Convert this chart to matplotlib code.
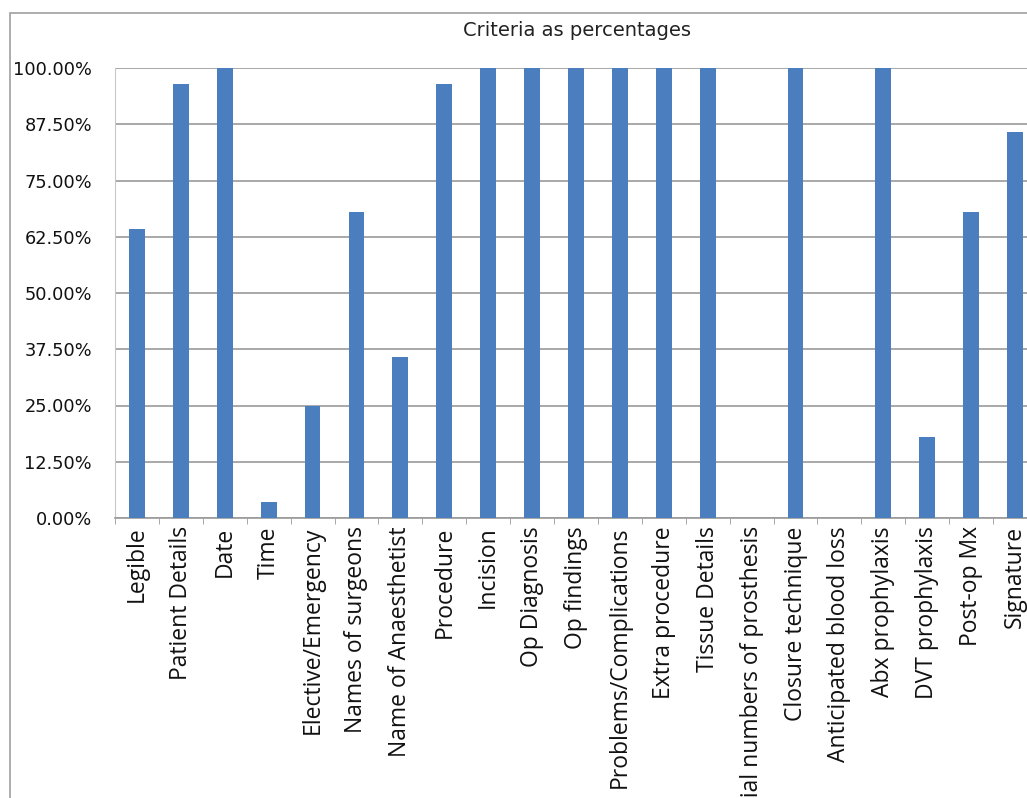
import matplotlib.pyplot as plt
from matplotlib.patches import Rectangle
from matplotlib.ticker import FuncFormatter, MultipleLocator

# Criteria and their percentages
criteria = [
    "Legible", "Patient Details", "Date", "Time", "Elective/Emergency",
    "Names of surgeons", "Name of Anaesthetist", "Procedure", "Incision",
    "Op Diagnosis", "Op findings", "Problems/Complications", "Extra procedure",
    "Tissue Details", "Serial numbers of prosthesis", "Closure technique",
    "Anticipated blood loss", "Abx prophylaxis", "DVT prophylaxis",
    "Post-op Mx", "Signature",
]
percentages = [
    64.3, 96.4, 100.0, 3.6, 25.0,
    67.9, 35.7, 96.4, 100.0,
    100.0, 100.0, 100.0, 100.0,
    100.0, 0.0, 100.0,
    0.0, 100.0, 17.9,
    67.9, 85.7,
]
y_ticks = [0, 12.5, 25, 37.5, 50, 62.5, 75, 87.5, 100]

bar_color = "#4A7EBF"
grid_color = "#9A9A9A"

fig = plt.figure(figsize=(10.27, 7.98), dpi=100)

# outer chart border (cut off to the right and bottom like the reference)
fig.patches.append(Rectangle((10 / 1027, -0.2), 1.2, 1.2 - 13 / 798,
                             transform=fig.transFigure, fill=False,
                             edgecolor="#A0A0A0", linewidth=1.2))

ax = fig.add_axes([115 / 1027, 1 - 518 / 798, 922 / 1027, 450 / 798])

x = list(range(len(criteria)))
ax.bar(x, percentages, width=0.36, color=bar_color, zorder=3)

ax.set_xlim(-0.5, len(criteria) - 0.5)
ax.set_ylim(0, 100)
ax.set_yticks(y_ticks)
ax.yaxis.set_major_formatter(FuncFormatter(lambda v, p: f"{v:.2f}%"))
ax.grid(axis="y", color=grid_color, linewidth=1.2, zorder=0)

ax.set_xticks(x)
ax.set_xticklabels(criteria, rotation=90, fontsize=16.5, family="Open Sans",
                   color="#111111")
ax.xaxis.set_minor_locator(MultipleLocator(1, offset=0.5))
ax.tick_params(axis="x", which="major", length=0, pad=6)
ax.tick_params(axis="x", which="minor", length=4, color=grid_color)
ax.tick_params(axis="y", length=0, pad=16.5, labelsize=12.8,
               labelcolor="#111111")

for side in ["top", "right"]:
    ax.spines[side].set_visible(False)
ax.spines["left"].set_color("#C8C8C8")
ax.spines["bottom"].set_color(grid_color)
ax.spines["bottom"].set_linewidth(1.2)

fig.text(577 / 1027, 1 - 30 / 798, "Criteria as percentages", ha="center",
         va="center", fontsize=14, color="#222222")

fig.savefig("out.png", dpi=100)
